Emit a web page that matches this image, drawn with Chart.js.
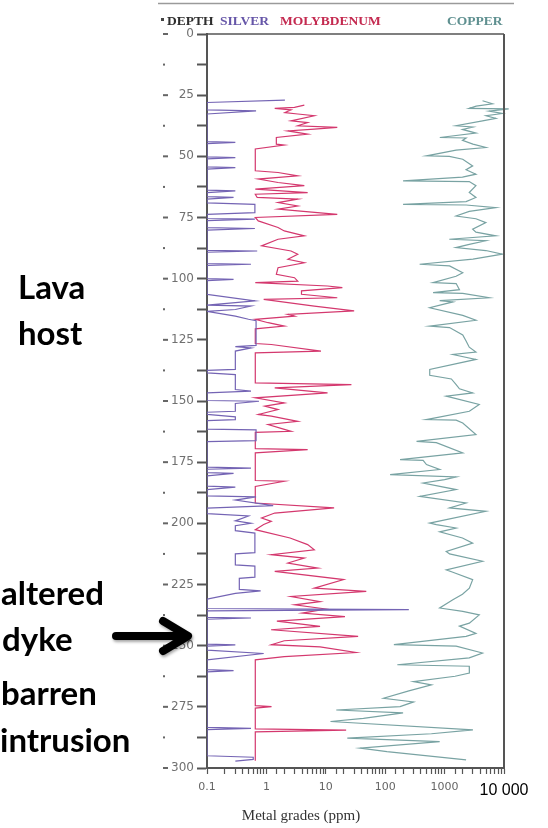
<!DOCTYPE html>
<html>
<head>
<meta charset="utf-8">
<script src="https://cdn.jsdelivr.net/npm/chart.js@4.4.1/dist/chart.umd.min.js"></script>
<style>
  html, body { margin: 0; padding: 0; background: #ffffff; }
  #wrap { position: relative; width: 548px; height: 828px; }
</style>
</head>
<body>
<div id="wrap"><canvas id="c" width="548" height="828"></canvas></div>
<script>
// ---------------- DATA ----------------
const silverDepth = [27,28,31,31.4,32.7,44,44.3,44.8,50.2,50.5,51,54.3,54.6,55.2,63.8,64.1,64.8,66.5,66.8,67.5,69,69.6,73,73.7,75.4,75.7,76.3,79.1,79.5,80.2,88.4,88.7,89.2,93.8,94.1,94.6,100,100.3,100.8,106.4,109.1,109.8,110.8,111.2,112.6,113.4,115.3,116.6,117.2,127.3,127.8,128.3,129.6,137.1,137.5,138.5,139.2,145.3,146,146.7,149.8,150.1,151,154.2,154.6,155.5,156.5,157.6,158,161.5,161.8,166.2,166.6,177,177.4,177.9,179.3,179.6,180.6,184.8,185.2,186.2,188.8,189.2,190.5,192.8,193.8,196,197,199,200,201,203,204,212,212.5,217,217.5,222,222.5,227,227.6,228.6,231,234.8,235.3,235.8,238.4,238.7,239.2,249.4,249.7,250.2,251.8,253.2,255.8,259.8,260.2,260.7,283.4,283.8,284.3,295,295.6,296.5,297.2];
const silverPpm = [2.05,0.1,0.1,0.67,0.1,0.1,0.3,0.1,0.1,0.3,0.1,0.1,0.3,0.1,0.1,0.3,0.1,0.1,0.28,0.1,0.1,0.64,0.64,0.1,0.1,0.64,0.1,0.1,0.64,0.1,0.1,0.7,0.1,0.1,0.55,0.1,0.1,0.28,0.1,0.1,0.64,0.3,0.1,0.55,0.3,0.1,0.3,0.5,0.67,0.67,0.3,0.55,0.3,0.3,0.1,0.1,0.3,0.3,0.55,0.1,0.1,0.75,0.3,0.3,0.1,0.1,0.3,0.3,0.1,0.1,0.67,0.67,0.1,0.1,0.55,0.1,0.1,0.28,0.1,0.1,0.3,0.1,0.1,0.67,0.3,1.3,0.1,0.1,0.5,0.3,0.55,0.3,0.3,0.64,0.64,0.3,0.3,0.64,0.64,0.35,0.35,0.8,0.3,0.1,0.1,250,0.1,0.1,0.55,0.1,0.1,0.3,0.1,0.1,0.9,0.1,0.1,0.28,0.1,0.1,0.55,0.1,0.1,0.6,0.6,0.3];

const molyDepth = [29.1,30,30.4,31,32.1,32.7,33.4,35.5,36.2,37.5,38.2,38.9,39.6,40.9,42.3,45,45.4,47,55.9,56.6,58,59.3,60.7,62,63.4,64.8,65.5,66.8,67.5,68.9,70.3,71.6,72.3,73.7,75,76.4,79.1,80.5,82.5,83.9,86.6,88.7,90,92.1,93.5,95.5,98.2,99.6,101,101.6,103,103.7,105,106.4,107.8,108.5,111.2,113.2,114.6,115.3,116.6,118,119.4,120.5,126.5,126.9,129.6,130.3,142.6,143.3,144.6,146.7,148.7,150.8,152.1,153.5,155.5,156.2,158.3,159.6,162.4,162.8,169.5,169.9,171.2,182.5,182.8,184.9,191.7,193.7,195.8,197.8,199.2,200.5,202.6,206,208.7,210.8,212.8,214.2,216.2,218.3,219.6,223,226.5,227.8,229.9,232,233.3,235,236.7,238.1,240,242.1,243.5,246.2,248,249.6,250.5,252.8,254.5,255.8,274.5,274.9,275.5,284,284.5,285.2,297];
const molyPpm = [4.35,2.97,1.38,2.6,2.05,3.37,6.4,2.6,4.95,3.37,15.6,6.4,2.3,4.95,1.47,1.47,2.0,0.65,0.65,1.57,3.37,0.73,1.57,4.35,0.65,4.95,0.65,0.7,3.37,1.57,3.37,1.57,3.37,15.6,0.65,0.73,1.57,2.0,4.35,1.57,0.83,2.6,3.37,2.3,4.35,1.57,1.47,2.97,3.37,0.65,10.7,19,3.9,3.9,15.6,0.9,6.4,30,2.3,2.97,0.65,1.07,2.0,0.65,0.65,1.21,8.3,0.65,0.65,27,1.38,10.7,0.65,2.0,0.94,1.57,0.73,1.21,3.37,1.07,2.6,0.65,0.65,4.95,0.65,0.65,2.0,0.65,0.65,13.8,1.38,0.83,1.21,0.9,0.65,2.5,4.95,6.4,1.21,4.35,2.3,7.3,1.38,20,6.4,48,2.6,8,3,10,4,21,1.5,8,1.2,35,2,1.21,8,32,2,0.65,0.65,1.22,0.65,0.65,22,0.65,0.65];

const copperDepth = [27.3,28.5,29.5,30.4,30.6,31.5,32.5,33.4,34.5,35.5,37.5,38,39,40.5,42.3,42.5,43.5,45,46.4,47.5,49.8,50,51.2,53.9,55.5,57.3,58.5,60,60.3,62,64.8,66.8,68.5,69.6,69.9,71,72.5,74.4,75.5,77.1,79.8,81,82.5,83.9,84.5,86,87.3,88.5,90,92,94.1,94.8,97.6,99,101.6,102,104.5,105.7,106,107.8,109,109.5,111.9,115,117,119.4,120,123,125.5,128,130,131,133,137.1,139.5,141,143.3,145,146.7,148,151.4,154.2,157.6,157.8,159,163.7,166.5,167,171.2,174,174.3,176,178,180.1,181,182.1,183.5,186.2,189,191.7,193.7,195.1,199.9,200.5,201.9,203.5,206,208.1,211.5,212.5,215.5,219,220,223,226.5,229,231.2,234.6,236,237.4,240.8,242,245,246.2,249.6,250.2,253,255,257.8,258.4,261.2,262.5,264.7,266,268.5,271.5,273,274.9,276.3,277.5,279.7,281,284.4,286,287.8,289.2,291.9,293.3,296.7];
const copperPpm = [4350,6400,3400,2600,12000,5600,9400,5000,7300,4350,1560,3000,2000,3370,830,2300,2000,3000,4950,1560,500,1200,2020,2970,2300,3370,2000,200,2600,3370,2600,3370,2300,200,2300,7260,2600,1560,3370,4950,2970,3370,7260,1200,4950,2600,1560,4950,9380,3000,380,1210,2020,1560,640,1565,1780,640,2020,5620,826,1377,562,2020,3370,562,1210,2020,2300,2600,3370,1377,3370,562,562,1300,1565,1778,2970,1066,3830,2610,495,1565,2020,3370,337,726,2020,178,435,495,826,121,1565,1000,435,1565,383,2300,1212,4950,562,726,1565,826,2000,2970,1066,1212,4350,1066,1377,2970,2610,2000,1377,826,2020,3830,2610,1778,3370,2300,140,1565,4350,2600,160,2600,2610,1500,300,600,250,94,300,178,15,200,43,12,3000,600,23,826,38,107,2300];

const xTickValues = [0.1, 1, 10, 100, 1000, 10000];
const xTickLabels = ['0.1', '1', '10', '100', '1000', '10 000'];
const depthMin = 0, depthMax = 300, depthStep = 12.5, depthLabelEvery = 25;
const headerLabels = ['DEPTH', 'SILVER', 'MOLYBDENUM', 'COPPER'];
const xAxisTitle = 'Metal grades (ppm)';
const sideNotes = ['Lava', 'host', 'altered', 'dyke', 'barren', 'intrusion'];

// ---------------- BUILD ----------------
function pts(d, v) { return d.map((y, i) => ({ x: v[i], y: y })); }

const decor = {
  id: 'decor',
  afterDraw(chart) {
    const ctx = chart.ctx, a = chart.chartArea;
    const ys = chart.scales.y;
    ctx.save();
    // faint top frame line
    ctx.strokeStyle = '#9a9a9a'; ctx.lineWidth = 1.5;
    ctx.beginPath(); ctx.moveTo(158, 3.5); ctx.lineTo(514, 3.5); ctx.stroke();
    // plot top and right borders
    ctx.strokeStyle = '#555'; ctx.lineWidth = 1.5;
    ctx.beginPath(); ctx.moveTo(a.left, a.top); ctx.lineTo(a.right, a.top); ctx.stroke();
    ctx.lineWidth = 2;
    ctx.beginPath(); ctx.moveTo(a.right, a.top); ctx.lineTo(a.right, a.bottom); ctx.stroke();
    // header
    ctx.font = 'bold 13.5px "Liberation Serif", serif';
    ctx.textBaseline = 'alphabetic'; ctx.textAlign = 'left';
    const hx = [167, 220, 280, 447];
    const hc = ['#2e2e2e', '#6656a8', '#c42a50', '#5f9090'];
    headerLabels.forEach((t, i) => { ctx.fillStyle = hc[i]; ctx.fillText(t, hx[i], 25); });
    ctx.fillStyle = '#444'; ctx.fillRect(161, 18, 3, 3);
    // dashes / dots at left of depth labels
    for (let v = depthMin; v <= depthMax + 1e-9; v += depthStep) {
      const py = ys.getPixelForValue(v);
      ctx.fillStyle = '#666';
      if (Math.abs(v % depthLabelEvery) < 1e-9) ctx.fillRect(163, py - 1, 5, 2);
      else ctx.fillRect(163, py - 1, 2, 2);
    }
    // x axis title
    ctx.fillStyle = '#333';
    ctx.font = '15px "Liberation Serif", serif';
    ctx.textAlign = 'center';
    ctx.fillText(xAxisTitle, 301, 820);
    // side notes
    ctx.fillStyle = '#000';
    ctx.font = 'bold 33px Lato, "Liberation Sans", sans-serif';
    ctx.textAlign = 'left';
    const nx = [18, 18, 1, 2, 1, 0];
    const ny = [299, 345, 605, 651, 705, 752];
    sideNotes.forEach((t, i) => ctx.fillText(t, nx[i], ny[i]));
    // arrow
    ctx.strokeStyle = '#000'; ctx.lineWidth = 8; ctx.lineCap = 'round'; ctx.lineJoin = 'round';
    ctx.shadowColor = 'rgba(0,0,0,0.35)'; ctx.shadowBlur = 3; ctx.shadowOffsetX = 1; ctx.shadowOffsetY = 2;
    ctx.beginPath(); ctx.moveTo(116, 636); ctx.lineTo(186, 636); ctx.stroke();
    ctx.beginPath(); ctx.moveTo(163, 621); ctx.lineTo(188, 636); ctx.lineTo(163, 651); ctx.stroke();
    ctx.restore();
  }
};

const chart = new Chart(document.getElementById('c'), {
  type: 'scatter',
  data: {
    datasets: [
      { label: 'Silver', data: pts(silverDepth, silverPpm), showLine: true, borderColor: '#7464b4', borderWidth: 1.2, pointRadius: 0, tension: 0 },
      { label: 'Molybdenum', data: pts(molyDepth, molyPpm), showLine: true, borderColor: '#d4386e', borderWidth: 1.2, pointRadius: 0, tension: 0 },
      { label: 'Copper', data: pts(copperDepth, copperPpm), showLine: true, borderColor: '#79a3a3', borderWidth: 1.2, pointRadius: 0, tension: 0, clip: false }
    ]
  },
  options: {
    responsive: false,
    animation: false,
    devicePixelRatio: 1,
    layout: { padding: { left: 0, right: 44, top: 34, bottom: 0 } },
    plugins: { legend: { display: false }, tooltip: { enabled: false } },
    scales: {
      x: {
        type: 'logarithmic',
        position: 'bottom',
        min: 0.1, max: 10000,
        afterFit(s) { s.height = 60; },
        border: { display: true, color: '#555', width: 2 },
        grid: { drawOnChartArea: false, drawTicks: true, tickLength: 6, color: '#555', tickWidth: 1.2 },
        ticks: {
          autoSkip: false, maxRotation: 0, padding: 7,
          color: (c) => (c.tick && c.tick.value === 10000 ? '#000' : '#666'),
          font: (c) => (c.tick && c.tick.value === 10000 ? { family: '"Liberation Sans", Arial, sans-serif', size: 16 } : { family: '"DejaVu Sans", sans-serif', size: 11 }),
          callback(v) {
            const i = xTickValues.findIndex(t => Math.abs(Math.log10(t) - Math.log10(v)) < 1e-6);
            return i >= 0 ? xTickLabels[i] : '';
          }
        }
      },
      y: {
        type: 'linear',
        reverse: true,
        min: depthMin, max: depthMax,
        afterFit(s) { s.width = 207; },
        border: { display: true, color: '#555', width: 2 },
        grid: { drawOnChartArea: false, drawTicks: true, tickLength: 10, color: '#555', tickWidth: 2 },
        ticks: {
          stepSize: depthStep, autoSkip: false, padding: 3,
          color: '#707070',
          font: { family: '"DejaVu Sans", sans-serif', size: 12 },
          callback(v) { return Math.abs(v % depthLabelEvery) < 1e-9 ? String(v) : ''; }
        }
      }
    }
  },
  plugins: [decor]
});
</script>
</body>
</html>
